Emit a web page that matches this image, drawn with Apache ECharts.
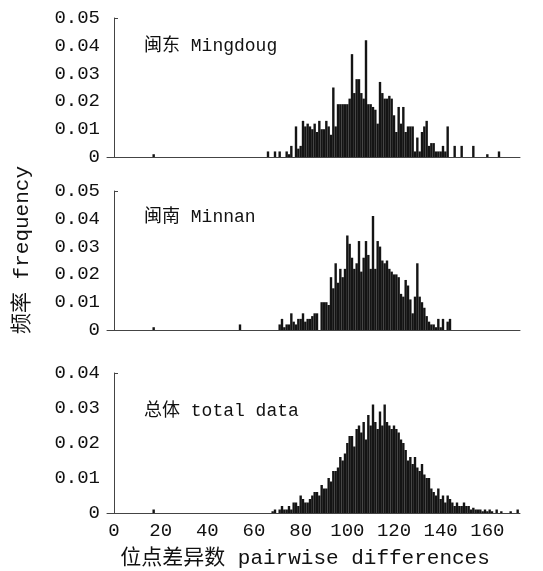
<!DOCTYPE html>
<html>
<head>
<meta charset="utf-8">
<script src="https://cdn.jsdelivr.net/npm/echarts@6/dist/echarts.min.js"></script>
<style>
  html, body { margin: 0; padding: 0; background: #fff; }
  #chart { width: 543px; height: 571px; }
</style>
</head>
<body>
<div id="chart"></div>
<script>
// pairwise differences histogram, one value per integer difference
var mingdongFirst = 66;
var mingdongFreq = [
    0.002, 0, 0, 0.002, 0, 0.002, 0, 0, 0.002, 0.001,
    0.004, 0, 0.011, 0.003, 0.004, 0.013, 0.011, 0.012, 0.011, 0.010,
    0.012, 0.009, 0.013, 0.010, 0.010, 0.013, 0.011, 0.008, 0.025, 0.011,
    0.019, 0.019, 0.019, 0.019, 0.019, 0.021, 0.037, 0.023, 0.028, 0.028,
    0.023, 0.021, 0.042, 0.019, 0.019, 0.018, 0.017, 0.012, 0.027, 0.023,
    0.021, 0.021, 0.022, 0.021, 0.015, 0.009, 0.018, 0.012, 0.018, 0.009,
    0.011, 0.011, 0.011, 0.002, 0.007, 0.002, 0.009, 0.011, 0.013, 0.004,
    0.005, 0.005, 0.002, 0.002, 0.002, 0.004, 0.002, 0.011, 0, 0,
    0.004, 0, 0, 0.004, 0, 0, 0, 0, 0.004, 0,
    0, 0, 0, 0, 0.001, 0, 0, 0, 0, 0.002
];
var mingdongIsolated = [[17, 0.001]];

var minnanFirst = 71;
var minnanFreq = [
    0.002, 0.004, 0.001, 0.002, 0.002, 0.006, 0.003, 0.002, 0.004, 0.004,
    0.006, 0.003, 0.004, 0.004, 0.005, 0.006, 0.006, 0, 0.010, 0.010,
    0.010, 0.009, 0.019, 0.015, 0.024, 0.017, 0.022, 0.019, 0.022, 0.034,
    0.031, 0.026, 0.022, 0.024, 0.032, 0.021, 0.026, 0.032, 0.027, 0.022,
    0.041, 0.022, 0.032, 0.030, 0.025, 0.024, 0.025, 0.022, 0.021, 0.020,
    0.020, 0.019, 0.013, 0.012, 0.018, 0.016, 0.011, 0.006, 0.012, 0.024,
    0.012, 0.010, 0.008, 0.005, 0.003, 0.002, 0.002, 0.001, 0.004, 0.001,
    0.004, 0, 0.003, 0.004
];
var minnanIsolated = [[17, 0.001], [54, 0.002]];

var totalFirst = 68;
var totalFreq = [
    0.0005, 0.001, 0, 0.001, 0.002, 0.001, 0.001, 0.002, 0.001, 0.003,
    0.003, 0.002, 0.005, 0.004, 0.003, 0.003, 0.004, 0.005, 0.006, 0.006,
    0.005, 0.008, 0.007, 0.007, 0.010, 0.009, 0.012, 0.012, 0.013, 0.016,
    0.015, 0.017, 0.020, 0.022, 0.022, 0.019, 0.024, 0.025, 0.023, 0.026,
    0.021, 0.028, 0.025, 0.031, 0.026, 0.024, 0.029, 0.025, 0.031, 0.026,
    0.025, 0.024, 0.025, 0.024, 0.023, 0.021, 0.020, 0.018, 0.015, 0.016,
    0.014, 0.016, 0.013, 0.012, 0.014, 0.011, 0.010, 0.010, 0.007, 0.006,
    0.005, 0.007, 0.004, 0.005, 0.003, 0.005, 0.004, 0.003, 0.002, 0.003,
    0.002, 0.002, 0.003, 0.002, 0.002, 0.001, 0.0015, 0.001, 0.001, 0.001,
    0.0005, 0.001, 0.0005, 0.001, 0.0005, 0, 0.001, 0, 0.0005, 0,
    0, 0, 0.0005, 0, 0, 0.001
];
var totalIsolated = [[17, 0.001]];

var panelNames = ['闽东 Mingdoug', '闽南 Minnan', '总体 total data'];
var panelMax = [0.05, 0.05, 0.04];
var xTickValues = [0, 20, 40, 60, 80, 100, 120, 140, 160];
var xAxisName = '位点差异数 pairwise differences';
var yAxisName = '频率 frequency';

var chart = echarts.init(document.getElementById('chart'));

var mono = "'Liberation Mono', 'Noto Sans CJK SC', monospace";

var toPairs = function(first, freq, isolated) {
    var out = isolated.slice();
    freq.forEach(function(v, i) {
        if (v > 0) out.push([first + i, v]);
    });
    return out;
};

var seriesData = [
    toPairs(mingdongFirst, mingdongFreq, mingdongIsolated),
    toPairs(minnanFirst, minnanFreq, minnanIsolated),
    toPairs(totalFirst, totalFreq, totalIsolated)
];

var grids = [
    { left: 107, right: 23, top: 18, height: 139 },
    { left: 107, right: 23, top: 191, height: 139 },
    { left: 107, right: 23, top: 373, height: 140 }
];
grids.forEach(function(g) { g.containLabel = false; g.outerBoundsMode = 'none'; });

var xAxes = [], yAxes = [], series = [];
for (var i = 0; i < 3; i++) {
    var last = i === 2;
    xAxes.push({
        type: 'value',
        gridIndex: i,
        min: -3,
        max: 174,
        axisLine: { show: true, onZero: false, lineStyle: { color: '#444', width: 1 } },
        axisTick: { show: false },
        splitLine: { show: false },
        axisLabel: {
            show: last,
            customValues: xTickValues,
            color: '#111',
            fontFamily: mono,
            fontSize: 19,
            margin: 8
        }
    });
    yAxes.push({
        type: 'value',
        gridIndex: i,
        min: 0,
        max: panelMax[i],
        interval: 0.01,
        axisLine: { show: true, lineStyle: { color: '#444', width: 1 } },
        axisTick: { show: true, inside: true, length: 4, customValues: [panelMax[i]], lineStyle: { color: '#444' } },
        splitLine: { show: false },
        axisLabel: {
            color: '#111',
            fontFamily: mono,
            fontSize: 19,
            margin: 7,
            formatter: function(v) { return v === 0 ? '0' : v.toFixed(2); }
        }
    });
    series.push({
        type: 'bar',
        xAxisIndex: i,
        yAxisIndex: i,
        data: seriesData[i],
        barWidth: 2.4,
        itemStyle: { color: '#141414' },
        silent: true,
        animation: false
    });
}

var labelTops = [47, 218, 412];
var graphics = panelNames.map(function(name, i) {
    return {
        type: 'text',
        left: 144,
        top: labelTops[i] - 10,
        style: { text: name, font: '18px ' + mono, fill: '#111' }
    };
});
graphics.push({
    type: 'text',
    x: 305,
    y: 558,
    style: { text: xAxisName, font: '21px ' + mono, fill: '#111', align: 'center', verticalAlign: 'middle' }
});
graphics.push({
    type: 'text',
    x: 22,
    y: 250,
    rotation: Math.PI / 2,
    style: { text: yAxisName, font: '21px ' + mono, fill: '#111', align: 'center', verticalAlign: 'middle' }
});

chart.setOption({
    animation: false,
    backgroundColor: '#fff',
    grid: grids,
    xAxis: xAxes,
    yAxis: yAxes,
    series: series,
    graphic: graphics
});
</script>
</body>
</html>
